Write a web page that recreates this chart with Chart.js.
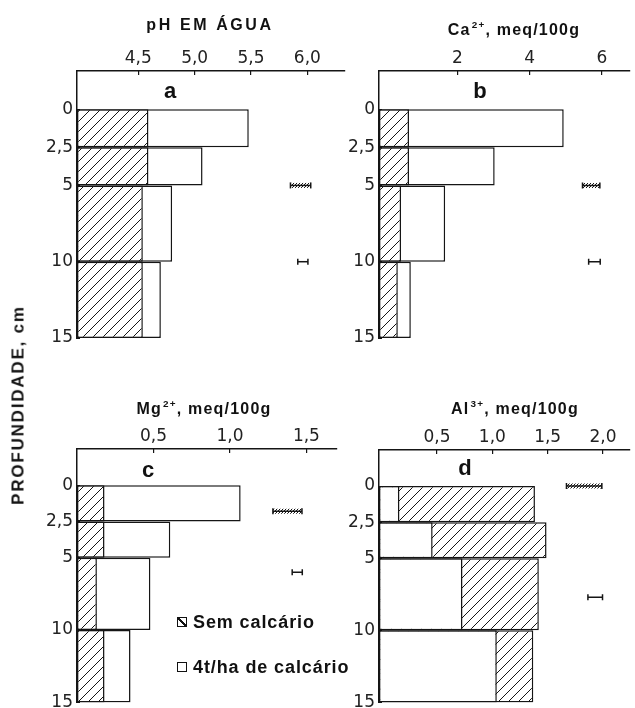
<!DOCTYPE html>
<html><head><meta charset="utf-8">
<script src="https://cdn.jsdelivr.net/npm/chart.js@4/dist/chart.umd.min.js"></script>
<style>
html,body{margin:0;padding:0;background:#fff;}
#wrap{position:relative;width:635px;height:708px;overflow:hidden;font-family:"Liberation Sans",Arial,sans-serif;color:#111;}
canvas{position:absolute;left:0;top:0;}
.t{position:absolute;white-space:nowrap;font-weight:bold;transform:translate(-50%,-50%);line-height:1;}
.t sup{font-size:0.62em;vertical-align:0.75em;line-height:0;margin-left:1px;}
.title{font-size:16px;letter-spacing:1.2px;}
.letter{font-size:22px;}
.ytitle{position:absolute;left:18px;top:405px;transform:translate(-50%,-50%) rotate(-90deg);font-weight:bold;font-size:17px;letter-spacing:1.8px;white-space:nowrap;line-height:1;}
.leg{position:absolute;left:177px;font-weight:bold;font-size:18px;letter-spacing:0.9px;white-space:nowrap;line-height:1;transform:translateY(-50%);}
.box{display:inline-block;width:8px;height:8px;border:1.5px solid #111;margin-right:6px;vertical-align:1px;}
.box.h{background:linear-gradient(to top right,transparent 40%,#111 40%,#111 60%,transparent 60%);}
</style></head>
<body>
<div id="wrap">
<canvas id="ca" width="635" height="708"></canvas>
<canvas id="cb" width="635" height="708"></canvas>
<canvas id="cc" width="635" height="708"></canvas>
<canvas id="cd" width="635" height="708"></canvas>
<div class="t title" style="left:210px;top:25px;letter-spacing:2.6px">pH EM ÁGUA</div>
<div class="t title" style="left:514px;top:30px">Ca<sup>2+</sup>, meq/100g</div>
<div class="t title" style="left:204px;top:409px">Mg<sup>2+</sup>, meq/100g</div>
<div class="t title" style="left:515px;top:409px">Al<sup>3+</sup>, meq/100g</div>
<div class="t letter" style="left:170px;top:91px">a</div>
<div class="t letter" style="left:480px;top:91px">b</div>
<div class="t letter" style="left:148px;top:470px">c</div>
<div class="t letter" style="left:465px;top:468px">d</div>
<div class="ytitle">PROFUNDIDADE, cm</div>
<div class="leg" style="top:622px"><span class="box h"></span>Sem calcário</div>
<div class="leg" style="top:667px"><span class="box"></span>4t/ha de calcário</div>
</div>
<script>
// ---- data ----
const depthEdges = [0, 2.5, 5, 10, 15];          // soil layers, cm
const depthTickLabels = [0, 2.5, 5, 10, 15];
const seriesNames = ['Sem calcário', '4t/ha de calcário'];

const phSem = [4.59, 4.59, 4.54, 4.54];
const phCal = [5.48, 5.07, 4.80, 4.70];
const phTicks = [4.5, 5.0, 5.5, 6.0];
const phLsdDepth = [5, 10];
const phLsdCenter = [5.94, 5.96];
const phLsdHalf = [0.09, 0.045];
const phLsdHatched = [true, false];

const caSem = [0.66, 0.66, 0.44, 0.35];
const caCal = [4.94, 3.03, 1.66, 0.71];
const caTicks = [2, 4, 6];
const caLsdDepth = [5, 10];
const caLsdCenter = [5.70, 5.79];
const caLsdHalf = [0.24, 0.16];
const caLsdHatched = [true, false];

const mgSem = [0.18, 0.18, 0.13, 0.18];
const mgCal = [1.07, 0.61, 0.48, 0.35];
const mgTicks = [0.5, 1.0, 1.5];
const mgLsdDepth = [1.8, 6.0];
const mgLsdCenter = [1.376, 1.44];
const mgLsdHalf = [0.095, 0.033];
const mgLsdHatched = [true, false];

const alSem = [1.385, 1.49, 1.42, 1.37];
const alCal = [0.16, 0.46, 0.73, 1.04];
const alTicks = [0.5, 1.0, 1.5, 2.0];
const alLsdDepth = [0, 7.7];
const alLsdCenter = [1.83, 1.93];
const alLsdHalf = [0.16, 0.066];
const alLsdHatched = [true, false];

// ---- layout / style ----
const INK = '#151515';
const Y_W = 40, X_H = 30;
const TOP_DEPTH = -2.5;      // blank band above the soil surface

function fmt(v, dec) {
  return (dec == null ? String(v) : v.toFixed(dec)).replace('.', ',');
}

// Index positions for Chart.js 'flex' bar sizing: each bar spans the mid-points
// to its neighbours, so choose positions whose mid-points fall on the layer edges.
// A spacer point (no value) is added before and after the layers.
function flexPositions(edges) {
  const pos = [];
  let p = (edges[0] + edges[1]) / 2;
  pos.push(2 * edges[0] - p);
  pos.push(p);
  for (let k = 1; k < edges.length - 1; k++) { p = 2 * edges[k] - p; pos.push(p); }
  pos.push(2 * edges[edges.length - 1] - p);
  return pos;
}
const barPos = flexPositions(depthEdges);
function layerData(values) {
  return barPos.map((y, i) => ({y, x: (i === 0 || i === barPos.length - 1) ? null : values[i - 1]}));
}

function hatch(ctx, period, lw, bg) {
  const c = document.createElement('canvas');
  c.width = c.height = period;
  const g = c.getContext('2d');
  if (bg) { g.fillStyle = bg; g.fillRect(0, 0, period, period); }
  g.strokeStyle = INK; g.lineWidth = lw;
  g.beginPath();
  g.moveTo(-1, period + 1); g.lineTo(period + 1, -1);
  g.moveTo(-1, 1); g.lineTo(1, -1);
  g.moveTo(period - 1, period + 1); g.lineTo(period + 1, period - 1);
  g.stroke();
  return ctx.createPattern(c, 'repeat');
}

function makePanel(id, p) {
  const canvas = document.getElementById(id);
  const ctx = canvas.getContext('2d');
  const barHatch = hatch(ctx, 10, 1, '#ffffff');
  const lsdHatch = hatch(ctx, 3, 1, null);
  const semOnTop = p.sem.reduce((a, b) => a + b, 0) < p.cal.reduce((a, b) => a + b, 0);
  const BW = 1.5;
  const barCommon = {
    type: 'bar', xAxisID: 'x', yAxisID: 'y', borderColor: INK, borderWidth: BW,
    borderSkipped: false, base: p.xmin, barThickness: 'flex', barPercentage: 1,
    categoryPercentage: 1, grouped: true, stack: 'layer', inflateAmount: 0
  };
  const datasets = [
    Object.assign({}, barCommon, {label: seriesNames[0], data: layerData(p.sem),
      backgroundColor: barHatch, order: semOnTop ? 1 : 2}),
    Object.assign({}, barCommon, {label: seriesNames[1], data: layerData(p.cal),
      backgroundColor: '#ffffff', order: semOnTop ? 2 : 1})
  ];
  p.lsdDepth.forEach((d, i) => {
    const pts = [{x: p.lsdCenter[i] - p.lsdHalf[i], y: d}, {x: p.lsdCenter[i] + p.lsdHalf[i], y: d}];
    if (p.lsdHatched[i]) {
      datasets.push({
        type: 'scatter', indexAxis: 'x', showLine: true, data: pts, xAxisID: 'x', yAxisID: 'y',
        borderColor: lsdHatch, borderWidth: 5, pointRadius: 0, order: 0, borderCapStyle: 'butt'
      });
    }
    datasets.push({
      type: 'scatter', indexAxis: 'x', showLine: true, data: pts, xAxisID: 'x', yAxisID: 'y',
      borderColor: INK, borderWidth: 1.5, pointStyle: 'line', rotation: 90,
      pointRadius: 3, pointBorderWidth: 1.5, pointBorderColor: INK, order: 0
    });
  });
  const depthTickPos = [];
  for (let d = depthEdges[0]; d <= depthEdges[depthEdges.length - 1]; d += 1) depthTickPos.push(d);
  depthTickPos.push(2.5);

  new Chart(canvas, {
    type: 'bar',
    data: {datasets},
    options: {
      indexAxis: 'y',
      responsive: false, animation: false, events: [],
      layout: {padding: {left: p.area.left - Y_W, top: p.area.top - X_H,
                         right: 635 - p.area.right, bottom: 708 - p.area.bottom}},
      plugins: {legend: {display: false}, tooltip: {enabled: false}},
      scales: {
        x: {
          type: 'linear', axis: 'x', position: 'top', min: p.xmin, max: p.xmax,
          stacked: false, offset: false, beginAtZero: false, grace: 0,
          afterBuildTicks: s => { s.ticks = p.ticks.map(v => ({value: v})); },
          afterFit: s => { s.height = X_H; s.paddingLeft = 0; s.paddingRight = 0; },
          ticks: {callback: v => fmt(v, p.dec), color: '#222', padding: 6, maxRotation: 0,
                  font: {family: 'DejaVu Sans', size: 17}},
          grid: {display: true, offset: false, drawOnChartArea: false, tickLength: -4, color: INK, lineWidth: 1.2},
          border: {display: true, color: INK, width: 1.5}
        },
        y: {
          type: 'linear', axis: 'y', position: 'left', reverse: true, offset: false,
          beginAtZero: false, grace: 0,
          min: TOP_DEPTH, max: depthEdges[depthEdges.length - 1],
          afterBuildTicks: s => { s.ticks = depthTickPos.map(v => ({value: v})); },
          afterFit: s => { s.width = Y_W; s.paddingTop = 0; s.paddingBottom = 0; },
          ticks: {callback: v => depthTickLabels.includes(v) ? fmt(v) : '', color: '#222',
                  padding: 7, autoSkip: false, font: {family: 'DejaVu Sans', size: 17}},
          grid: {display: true, offset: false, drawOnChartArea: false, tickLength: -3, color: INK, lineWidth: 1},
          border: {display: true, color: INK, width: 1.5}
        }
      }
    }
  });
}

makePanel('ca', {sem: phSem, cal: phCal, ticks: phTicks, dec: 1, xmin: 3.956, xmax: 6.334,
  area: {left: 77, top: 71, right: 345, bottom: 338},
  lsdDepth: phLsdDepth, lsdCenter: phLsdCenter, lsdHalf: phLsdHalf, lsdHatched: phLsdHatched});
makePanel('cb', {sem: caSem, cal: caCal, ticks: caTicks, dec: 0, xmin: -0.17, xmax: 6.76,
  area: {left: 379, top: 71, right: 635, bottom: 338},
  lsdDepth: caLsdDepth, lsdCenter: caLsdCenter, lsdHalf: caLsdHalf, lsdHatched: caLsdHatched});
makePanel('cc', {sem: mgSem, cal: mgCal, ticks: mgTicks, dec: 1, xmin: 0, xmax: 1.70,
  area: {left: 77, top: 449, right: 337, bottom: 705},
  lsdDepth: mgLsdDepth, lsdCenter: mgLsdCenter, lsdHalf: mgLsdHalf, lsdHatched: mgLsdHatched});
makePanel('cd', {sem: alSem, cal: alCal, ticks: alTicks, dec: 1, xmin: -0.025, xmax: 2.24,
  area: {left: 379, top: 450, right: 635, bottom: 705},
  lsdDepth: alLsdDepth, lsdCenter: alLsdCenter, lsdHalf: alLsdHalf, lsdHatched: alLsdHatched});
</script>
</body></html>
